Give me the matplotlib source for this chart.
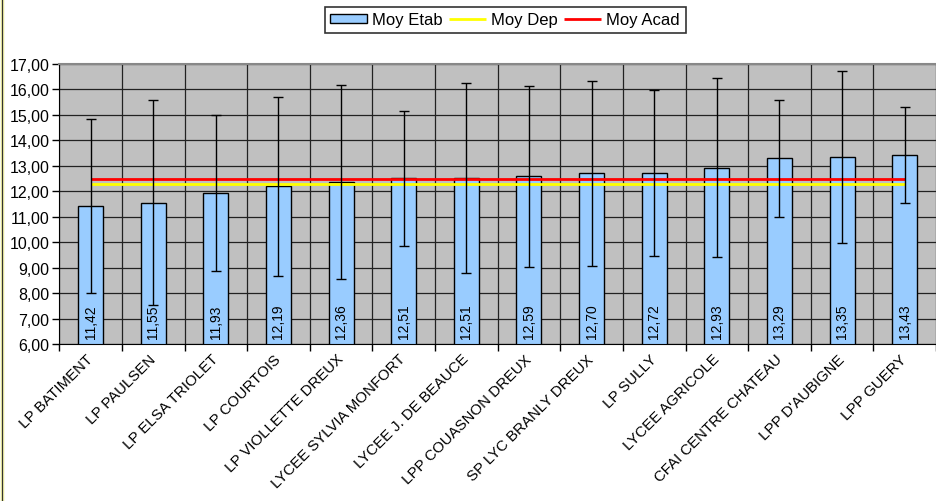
import numpy as np
import matplotlib
matplotlib.use('Agg')
import matplotlib.pyplot as plt
from matplotlib.lines import Line2D

plt.rcParams['font.family'] = ['Liberation Sans', 'DejaVu Sans']

etabs = ['LP BATIMENT', 'LP PAULSEN', 'LP ELSA TRIOLET', 'LP COURTOIS',
         'LP VIOLLETTE DREUX', 'LYCEE SYLVIA MONFORT', 'LYCEE J. DE BEAUCE',
         'LPP COUASNON DREUX', 'SP LYC BRANLY DREUX', 'LP SULLY',
         'LYCEE AGRICOLE', 'CFAI CENTRE CHATEAU', "LPP D'AUBIGNE", 'LPP GUERY']
moy_etab = [11.42, 11.55, 11.93, 12.19, 12.36, 12.51, 12.51,
            12.59, 12.70, 12.72, 12.93, 13.29, 13.35, 13.43]
ecart = [3.40, 4.02, 3.08, 3.50, 3.80, 2.66, 3.73,
         3.55, 3.63, 3.27, 3.52, 2.29, 3.39, 1.89]
moy_dep = 12.29
moy_acad = 12.50
y_ticks = [6, 7, 8, 9, 10, 11, 12, 13, 14, 15, 16, 17]

n = len(etabs)
x = np.arange(n)

fig = plt.figure(figsize=(9.36, 5.02), dpi=100)
ax = fig.add_axes([59.3/936, 1-345/502, 1-59.3/936, 280/502])
ax.set_facecolor('#c0c0c0')

bars = ax.bar(x, moy_etab, width=0.4, color='#99ccff', edgecolor='black',
              linewidth=1, zorder=2, label='Moy Etab')
l_dep = ax.hlines(moy_dep, x[0], x[-1], color='#ffff00', linewidth=2, zorder=3, label='Moy Dep')
l_acad = ax.hlines(moy_acad, x[0], x[-1], color='#ff0000', linewidth=2, zorder=3, label='Moy Acad')
ax.errorbar(x, moy_etab, yerr=ecart, fmt='none', ecolor='black', elinewidth=1,
            capsize=3.8, capthick=1, zorder=5)

for xi, v in zip(x, moy_etab):
    ax.text(xi, 6.25, f'{v:.2f}'.replace('.', ','), rotation=90, ha='center',
            va='bottom', fontsize=10, zorder=6)

ax.set_ylim(6, 17)
ax.set_xlim(-0.5, n - 0.5)
ax.set_yticks(y_ticks)
ax.set_yticklabels([f'{t:.2f}'.replace('.', ',') for t in y_ticks], fontsize=11.5)
ax.set_xticks(np.arange(n + 1) - 0.5)
ax.set_xticklabels([])
ax.set_xticks(x, minor=True)
ax.set_xticklabels(etabs, minor=True, rotation=45, ha='right', va='center',
                   rotation_mode='anchor', fontsize=10.8)
ax.tick_params(axis='x', which='minor', length=0, pad=9)
ax.tick_params(axis='x', which='major', length=5, width=1, direction='out')
ax.tick_params(axis='y', length=5, width=1, direction='out', pad=2)
ax.grid(True, color='#222222', linewidth=0.9, zorder=0)
ax.set_axisbelow(True)

ax.spines['right'].set_visible(False)
ax.spines['top'].set_color('#888888')
ax.spines['top'].set_linewidth(1.5)
ax.spines['left'].set_color('black')
ax.spines['bottom'].set_color('black')

leg = fig.legend([bars, l_dep, l_acad], ['Moy Etab', 'Moy Dep', 'Moy Acad'],
                 loc='center', bbox_to_anchor=(505/936, 1-21/502), ncol=3,
                 fontsize=12, frameon=True, fancybox=False, edgecolor='black',
                 handlelength=2.2, handleheight=0.5, handletextpad=0.3,
                 columnspacing=0.4, borderpad=0.35)
leg.get_frame().set_linewidth(1.2)

fig.add_artist(Line2D([1.5/936, 1.5/936], [0, 1], transform=fig.transFigure,
                      color='#e8e8a0', linewidth=2.5))
fig.add_artist(Line2D([1.5/936, 1.5/936], [0, 1], transform=fig.transFigure,
                      color='#333333', linewidth=0.8))

fig.savefig('out.png', dpi=100)
